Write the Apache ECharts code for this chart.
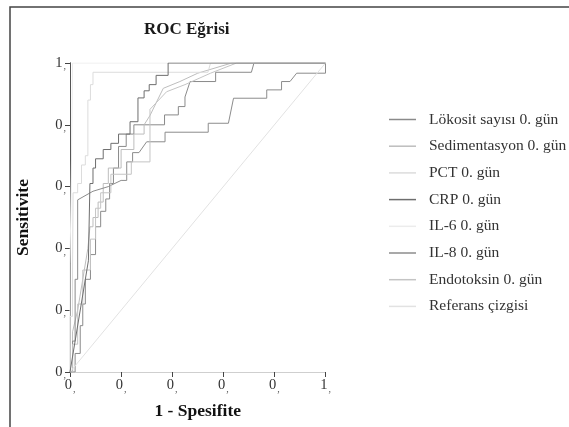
<!DOCTYPE html>
<html><head><meta charset="utf-8">
<script src="https://cdn.jsdelivr.net/npm/echarts@6/dist/echarts.min.js"></script>
<style>html,body{margin:0;padding:0;background:#fff}#c{width:569px;height:427px}</style>
</head><body><div id="c"></div>
<script>
const titleText = 'ROC Eğrisi';
const xName = '1 - Spesifite';
const yName = 'Sensitivite';
const tickValues = [0, 0.2, 0.4, 0.6, 0.8, 1];
const seriesNames = ['Lökosit sayısı 0. gün','Sedimentasyon 0. gün','PCT 0. gün','CRP 0. gün','IL-6 0. gün','IL-8 0. gün','Endotoksin 0. gün','Referans çizgisi'];

const lokosit = [[0,0],[0.02,0],[0.02,0.06],[0.04,0.06],[0.04,0.15],[0.05,0.15],[0.05,0.22],[0.06,0.22],[0.06,0.3],[0.08,0.3],[0.08,0.38],[0.1,0.38],[0.1,0.47],[0.12,0.47],[0.12,0.52],[0.14,0.52],[0.14,0.56],[0.155,0.56],[0.155,0.61],[0.17,0.61],[0.17,0.66],[0.19,0.66],[0.19,0.73],[0.22,0.73],[0.22,0.77],[0.25,0.77],[0.25,0.8],[0.37,0.8],[0.37,0.832],[0.424,0.832],[0.424,0.859],[0.45,0.859],[0.45,0.89],[0.47,0.94],[0.57,0.94],[0.57,0.97],[0.71,0.97],[0.72,1],[1,1]];
const sedim = [[0,0],[0.01,0],[0.01,0.13],[0.03,0.2],[0.05,0.3],[0.07,0.4],[0.078,0.47],[0.09,0.47],[0.09,0.5],[0.11,0.5],[0.11,0.55],[0.13,0.55],[0.13,0.61],[0.15,0.61],[0.15,0.66],[0.2,0.66],[0.2,0.72],[0.25,0.72],[0.25,0.77],[0.29,0.77],[0.29,0.8],[0.313,0.83],[0.365,0.918],[0.43,0.94],[0.5,0.967],[0.633,1],[1,1]];
const pct = [[0,0],[0,0.18],[0.01,0.18],[0.01,0.33],[0.012,0.33],[0.012,0.58],[0.03,0.58],[0.03,0.61],[0.045,0.61],[0.045,0.67],[0.06,0.67],[0.06,0.7],[0.07,0.7],[0.07,0.88],[0.08,0.88],[0.08,0.93],[0.09,0.93],[0.09,0.97],[0.54,0.97],[0.55,1],[1,1]];
const crp = [[0,0],[0.007,0],[0.072,0.36],[0.078,0.36],[0.078,0.61],[0.09,0.61],[0.09,0.66],[0.1,0.66],[0.1,0.69],[0.13,0.69],[0.13,0.72],[0.16,0.72],[0.16,0.74],[0.19,0.74],[0.19,0.77],[0.235,0.77],[0.235,0.81],[0.266,0.81],[0.266,0.887],[0.29,0.887],[0.29,0.91],[0.31,0.91],[0.31,0.93],[0.337,0.93],[0.337,0.96],[0.384,0.96],[0.384,1],[1,1]];
const il6 = [[0,0],[0,0.35],[0.005,0.35],[0.005,0.62],[0.01,0.62],[0.01,1],[1,1]];
const il8 = [[0,0],[0.01,0],[0.01,0.1],[0.02,0.1],[0.02,0.3],[0.03,0.3],[0.03,0.557],[0.09,0.585],[0.15,0.6],[0.2,0.62],[0.222,0.62],[0.222,0.68],[0.245,0.68],[0.245,0.71],[0.27,0.71],[0.3,0.745],[0.372,0.745],[0.372,0.776],[0.541,0.776],[0.541,0.805],[0.62,0.805],[0.64,0.886],[0.77,0.886],[0.77,0.913],[0.828,0.913],[0.828,0.94],[0.861,0.94],[0.887,0.967],[1,0.967],[1,1]];
const endo = [[0,0],[0.01,0],[0.01,0.09],[0.03,0.09],[0.03,0.22],[0.05,0.22],[0.05,0.33],[0.08,0.33],[0.08,0.43],[0.1,0.43],[0.1,0.53],[0.12,0.53],[0.12,0.58],[0.16,0.58],[0.16,0.64],[0.24,0.64],[0.24,0.68],[0.313,0.68],[0.313,0.85],[0.378,0.907],[0.45,0.93],[0.55,0.967],[0.652,1],[1,1]];
const referans = [[0,0],[1,1]];

const seriesData = [lokosit, sedim, pct, crp, il6, il8, endo, referans];
const colors = ['#8a8a8a','#bdbdbd','#dcdcdc','#6e6e6e','#ececec','#8c8c8c','#c4c4c4','#e2e2e2'];

const serif = '"Liberation Serif","DejaVu Serif",serif';
const tickFmt = v => '{a|' + (v >= 1 ? '1' : '0') + '}{b|,}';
const rich = { a: {fontFamily: serif, fontSize: 14.5, color: '#333'}, b: {fontFamily: serif, fontSize: 10, color: '#555', padding:[7,0,0,1]} };

const chart = echarts.init(document.getElementById('c'), null, {renderer: 'canvas'});
chart.setOption({
  animation: false,
  backgroundColor: '#fff',
  color: colors,
  graphic: [
    {type:'rect', shape:{x:10, y:7, width:620, height:500}, style:{fill:'none', stroke:'#444', lineWidth:1.5}, z: 0},
    {type:'text', left: 144, top: 21, style:{text: titleText, font: 'bold 17px ' + serif, fill:'#1a1a1a'}}
  ],
  grid: {left: 70, top: 63, width: 255.5, height: 309},
  xAxis: [
    {type:'value', min:0, max:1, interval:0.2, name: xName, nameLocation:'middle', nameGap: 30,
     nameTextStyle:{fontFamily: serif, fontSize: 17.5, fontWeight:'bold', color:'#111'},
     axisLine:{lineStyle:{color:'#444'}}, axisTick:{length:5, lineStyle:{color:'#444'}},
     axisLabel:{formatter: tickFmt, rich: rich, margin: 5}, splitLine:{show:false}},
    {type:'value', min:0, max:1, position:'top', axisLine:{show:true, lineStyle:{color:'#cfcfcf'}}, axisTick:{show:false}, axisLabel:{show:false}, splitLine:{show:false}}
  ],
  yAxis: [
    {type:'value', min:0, max:1, interval:0.2, name: yName, nameLocation:'middle', nameGap: 38,
     nameTextStyle:{fontFamily: serif, fontSize: 17.5, fontWeight:'bold', color:'#111'},
     axisLine:{show:true, lineStyle:{color:'#444'}}, axisTick:{show:true, length:5, lineStyle:{color:'#444'}},
     axisLabel:{formatter: tickFmt, rich: rich, margin: 4}, splitLine:{show:false}},
    {type:'value', min:0, max:1, position:'right', axisLine:{show:true, lineStyle:{color:'#555'}}, axisTick:{show:false}, axisLabel:{show:false}, splitLine:{show:false}}
  ],
  legend: {
    orient:'vertical', left: 384, top: 106, itemWidth: 27, itemHeight: 1.5, itemGap: 9.7, icon:'rect',
    textStyle:{fontFamily: serif, fontSize: 15.5, color:'#333', lineHeight: 17, padding:[0,0,0,8]},
    data: seriesNames
  },
  series: seriesData.map((d, i) => ({
    name: seriesNames[i], type:'line', data: d, symbol:'none', xAxisIndex:0, yAxisIndex:0,
    lineStyle:{width:1, color: colors[i]}, itemStyle:{color: colors[i]}, z: (i === 3 ? 5 : 2)
  }))
});
</script></body></html>
